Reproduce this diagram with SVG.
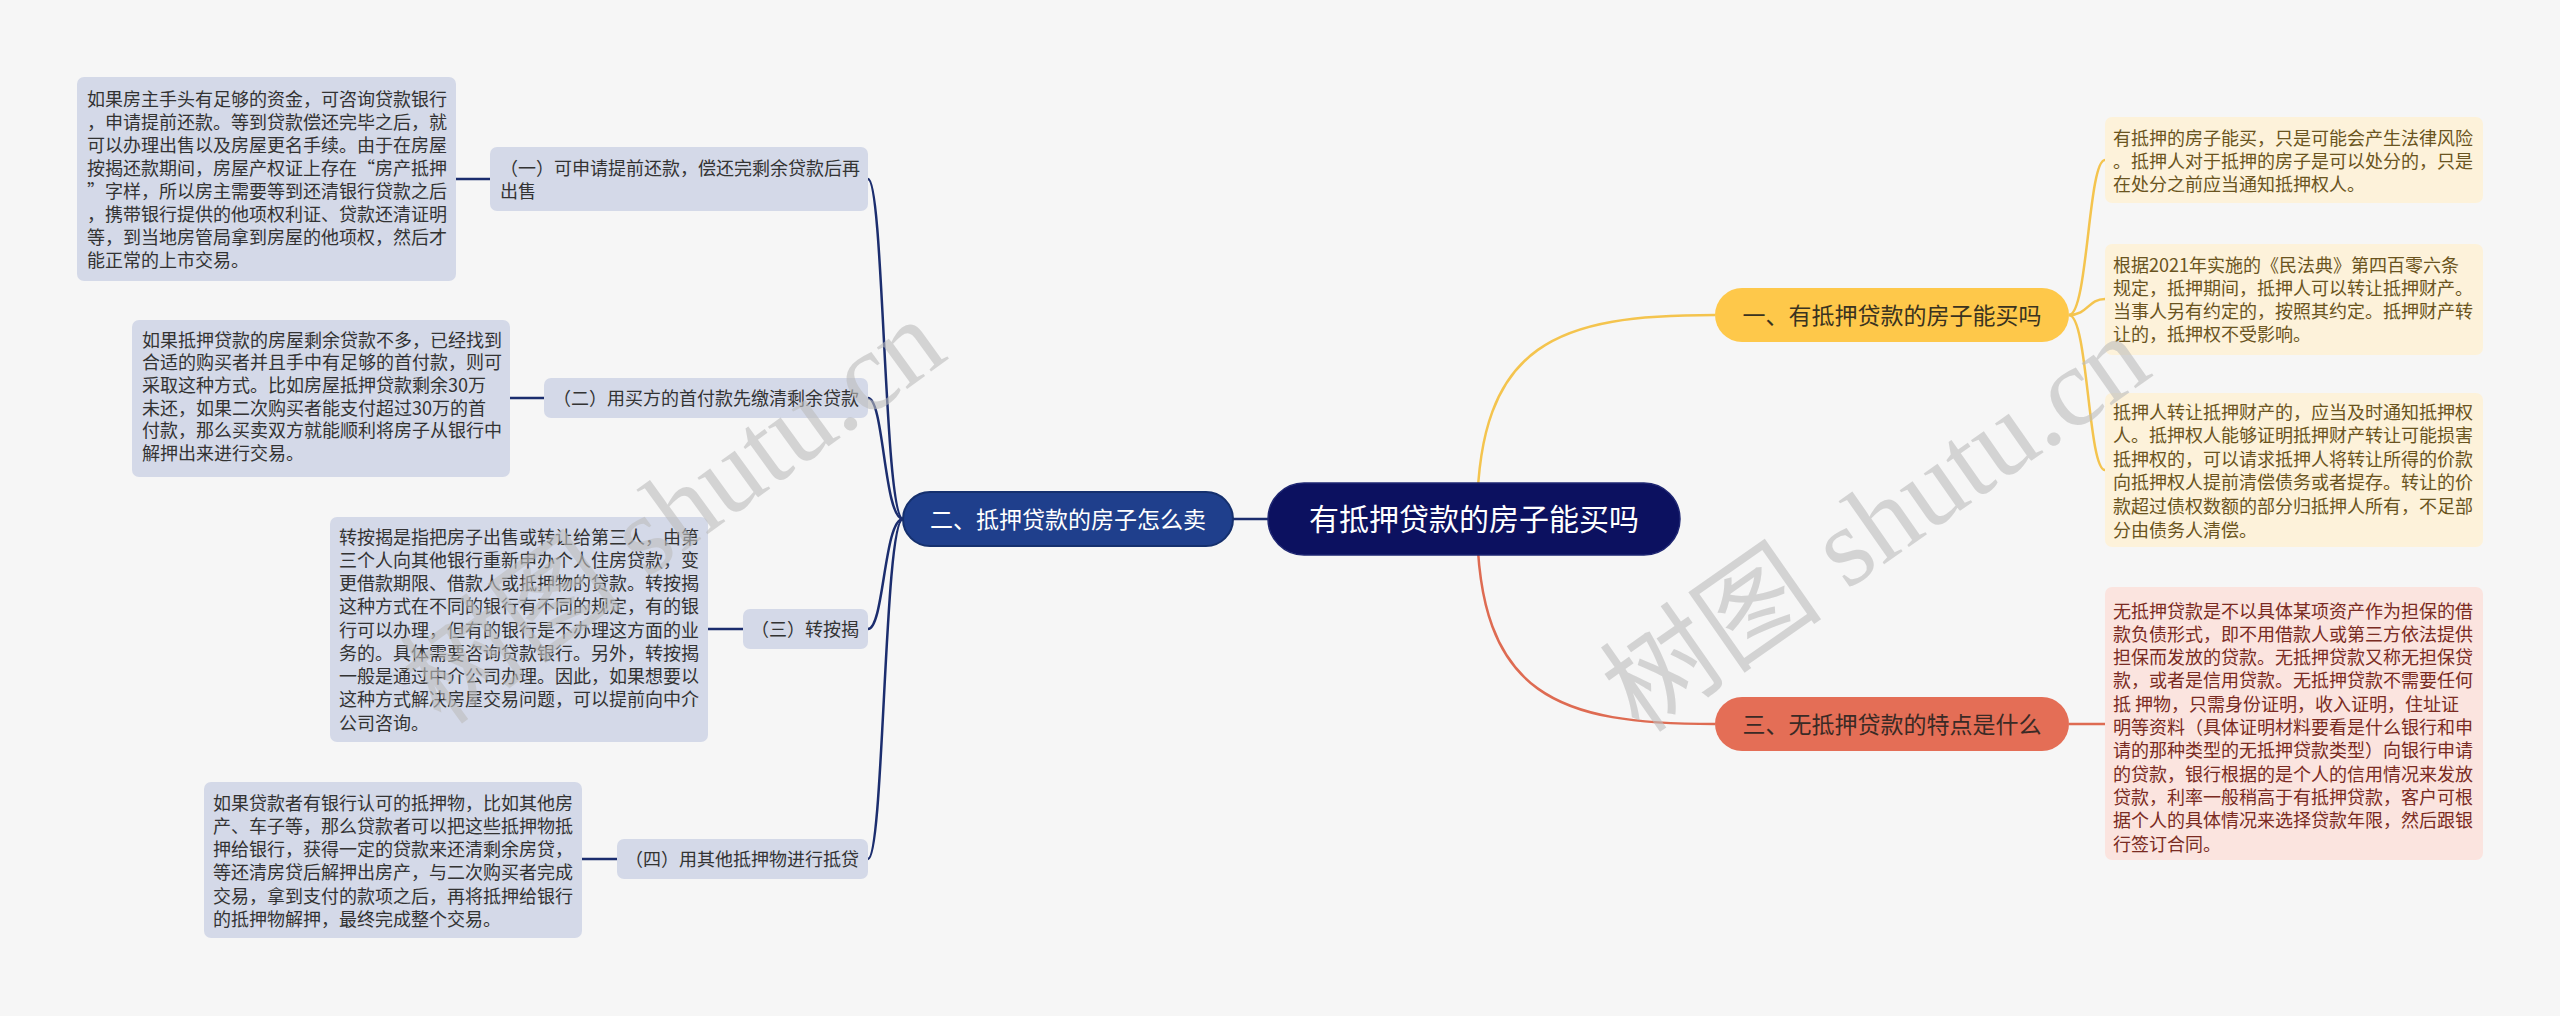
<svg xmlns="http://www.w3.org/2000/svg" width="2560" height="1016" viewBox="0 0 2560 1016">
<style>
.bg{fill:#f6f6f6}
.lbox{fill:#d4d9e8}
.ybox{fill:#fdf2da}
.pbox{fill:#fbe4df}
.t{font-family:"Noto Sans CJK SC","Liberation Sans",sans-serif;font-size:18px}
.lt{fill:#333333}
.yt{fill:#6a5420}
.pt{fill:#7a2b22}
.cl{fill:none;stroke:#1b2d6e;stroke-width:2.5}
.cy{fill:none;stroke:#f4c44e;stroke-width:2.5}
.cr{fill:none;stroke:#de6b52;stroke-width:2.5}
.big{font-family:"Noto Sans CJK SC","Liberation Sans",sans-serif;text-anchor:middle}
.wm{font-family:"Liberation Serif","Noto Sans CJK SC",serif;font-size:112px;fill:#bdbdbd;opacity:0.6}
</style>
<rect class="bg" x="0" y="0" width="2560" height="1016"/>

<g id="connectors">
  <line class="cl" x1="456" y1="179" x2="490" y2="179"/>
  <line class="cl" x1="510" y1="398" x2="544" y2="398"/>
  <line class="cl" x1="708" y1="629" x2="743" y2="629"/>
  <line class="cl" x1="582" y1="859" x2="617" y2="859"/>
  <path class="cl" d="M903 519 C884 519 884 179 868 179"/>
  <path class="cl" d="M903 519 C884 519 884 398 868 398"/>
  <path class="cl" d="M903 519 C884 519 884 629 868 629"/>
  <path class="cl" d="M903 519 C884 519 884 859 868 859"/>
  <line class="cl" x1="1233" y1="519" x2="1270" y2="519"/>
  <path class="cy" d="M1477 519 C1477 340 1560 315 1715 315"/>
  <path class="cr" d="M1477 519 C1477 698 1560 724 1715 724"/>
  <path class="cy" d="M2069 315 C2088 315 2088 160 2105 160"/>
  <path class="cy" d="M2069 315 C2088 315 2088 299 2105 299"/>
  <path class="cy" d="M2069 315 C2088 315 2088 470 2105 470"/>
  <line class="cr" x1="2069" y1="724" x2="2105" y2="724"/>
</g>

<g id="root">
  <rect x="1268" y="483" width="412" height="72" rx="36" fill="#0c1160" stroke="#1e2672" stroke-width="1.5"/>
  <text class="big" x="1474" y="530" font-size="30" fill="#ffffff">有抵押贷款的房子能买吗</text>
</g>

<g id="branch2">
  <rect x="903" y="492" width="330" height="54" rx="27" fill="#1f3f8c" stroke="#15306e" stroke-width="2"/>
  <text class="big" x="1068" y="527.5" font-size="23" fill="#ffffff">二、抵押贷款的房子怎么卖</text>
</g>

<g id="branch1">
  <rect x="1715" y="288" width="354" height="54" rx="27" fill="#fec84a"/>
  <text class="big" x="1892" y="323.5" font-size="23" fill="#3a3320">一、有抵押贷款的房子能买吗</text>
</g>

<g id="branch3">
  <rect x="1715" y="697" width="354" height="54" rx="27" fill="#e46e56"/>
  <text class="big" x="1892" y="732.5" font-size="23" fill="#3a2a25">三、无抵押贷款的特点是什么</text>
</g>

<g id="sub1">
  <rect class="lbox" x="490" y="147" width="378" height="64" rx="7"/>
  <text class="t lt" x="500" y="174.5">（一）可申请提前还款，偿还完剩余贷款后再<tspan x="500" dy="23.5">出售</tspan></text>
</g>
<g id="sub2">
  <rect class="lbox" x="544" y="378" width="324" height="40" rx="7"/>
  <text class="t lt" x="553" y="404.5">（二）用买方的首付款先缴清剩余贷款</text>
</g>
<g id="sub3">
  <rect class="lbox" x="743" y="609" width="125" height="40" rx="7"/>
  <text class="t lt" x="751" y="635.5">（三）转按揭</text>
</g>
<g id="sub4">
  <rect class="lbox" x="617" y="839" width="251" height="40" rx="7"/>
  <text class="t lt" x="625" y="865.5">（四）用其他抵押物进行抵贷</text>
</g>

<g id="leaf1">
  <rect class="lbox" x="77" y="77" width="379" height="204" rx="7"/>
  <text class="t lt" x="87" y="105.5">如果房主手头有足够的资金，可咨询贷款银行<tspan x="87" dy="23">，申请提前还款。等到贷款偿还完毕之后，就</tspan><tspan x="87" dy="23">可以办理出售以及房屋更名手续。由于在房屋</tspan><tspan x="87" dy="23">按揭还款期间，房屋产权证上存在“房产抵押</tspan><tspan x="87" dy="23">”字样，所以房主需要等到还清银行贷款之后</tspan><tspan x="87" dy="23">，携带银行提供的他项权利证、贷款还清证明</tspan><tspan x="87" dy="23">等，到当地房管局拿到房屋的他项权，然后才</tspan><tspan x="87" dy="23">能正常的上市交易。</tspan></text>
</g>

<g id="leaf2">
  <rect class="lbox" x="132" y="320" width="378" height="157" rx="7"/>
  <text class="t lt" x="142" y="346.5">如果抵押贷款的房屋剩余贷款不多，已经找到<tspan x="142" dy="22.7">合适的购买者并且手中有足够的首付款，则可</tspan><tspan x="142" dy="22.7">采取这种方式。比如房屋抵押贷款剩余30万</tspan><tspan x="142" dy="22.7">未还，如果二次购买者能支付超过30万的首</tspan><tspan x="142" dy="22.7">付款，那么买卖双方就能顺利将房子从银行中</tspan><tspan x="142" dy="22.7">解押出来进行交易。</tspan></text>
</g>

<g id="leaf3">
  <rect class="lbox" x="330" y="517" width="378" height="225" rx="7"/>
  <text class="t lt" x="339" y="543.5">转按揭是指把房子出售或转让给第三人，由第<tspan x="339" dy="23.25">三个人向其他银行重新申办个人住房贷款，变</tspan><tspan x="339" dy="23.25">更借款期限、借款人或抵押物的贷款。转按揭</tspan><tspan x="339" dy="23.25">这种方式在不同的银行有不同的规定，有的银</tspan><tspan x="339" dy="23.25">行可以办理，但有的银行是不办理这方面的业</tspan><tspan x="339" dy="23.25">务的。具体需要咨询贷款银行。另外，转按揭</tspan><tspan x="339" dy="23.25">一般是通过中介公司办理。因此，如果想要以</tspan><tspan x="339" dy="23.25">这种方式解决房屋交易问题，可以提前向中介</tspan><tspan x="339" dy="23.25">公司咨询。</tspan></text>
</g>

<g id="leaf4">
  <rect class="lbox" x="204" y="782" width="378" height="156" rx="7"/>
  <text class="t lt" x="213" y="809.5">如果贷款者有银行认可的抵押物，比如其他房<tspan x="213" dy="23.3">产、车子等，那么贷款者可以把这些抵押物抵</tspan><tspan x="213" dy="23.3">押给银行，获得一定的贷款来还清剩余房贷，</tspan><tspan x="213" dy="23.3">等还清房贷后解押出房产，与二次购买者完成</tspan><tspan x="213" dy="23.3">交易，拿到支付的款项之后，再将抵押给银行</tspan><tspan x="213" dy="23.3">的抵押物解押，最终完成整个交易。</tspan></text>
</g>

<g id="leafA">
  <rect class="ybox" x="2105" y="117" width="378" height="86" rx="7"/>
  <text class="t yt" x="2113" y="144.5">有抵押的房子能买，只是可能会产生法律风险<tspan x="2113" dy="23">。抵押人对于抵押的房子是可以处分的，只是</tspan><tspan x="2113" dy="23">在处分之前应当通知抵押权人。</tspan></text>
</g>

<g id="leafB">
  <rect class="ybox" x="2105" y="244" width="378" height="111" rx="7"/>
  <text class="t yt" x="2113" y="271.5">根据2021年实施的《民法典》第四百零六条<tspan x="2113" dy="23">规定，抵押期间，抵押人可以转让抵押财产。</tspan><tspan x="2113" dy="23">当事人另有约定的，按照其约定。抵押财产转</tspan><tspan x="2113" dy="23">让的，抵押权不受影响。</tspan></text>
</g>

<g id="leafC">
  <rect class="ybox" x="2105" y="393" width="378" height="154" rx="7"/>
  <text class="t yt" x="2113" y="418.5">抵押人转让抵押财产的，应当及时通知抵押权<tspan x="2113" dy="23.6">人。抵押权人能够证明抵押财产转让可能损害</tspan><tspan x="2113" dy="23.6">抵押权的，可以请求抵押人将转让所得的价款</tspan><tspan x="2113" dy="23.6">向抵押权人提前清偿债务或者提存。转让的价</tspan><tspan x="2113" dy="23.6">款超过债权数额的部分归抵押人所有，不足部</tspan><tspan x="2113" dy="23.6">分由债务人清偿。</tspan></text>
</g>

<g id="leafD">
  <rect class="pbox" x="2105" y="587" width="378" height="273" rx="7"/>
  <text class="t pt" x="2113" y="617.5">无抵押贷款是不以具体某项资产作为担保的借<tspan x="2113" dy="23.3">款负债形式，即不用借款人或第三方依法提供</tspan><tspan x="2113" dy="23.3">担保而发放的贷款。无抵押贷款又称无担保贷</tspan><tspan x="2113" dy="23.3">款，或者是信用贷款。无抵押贷款不需要任何</tspan><tspan x="2113" dy="23.3">抵 押物，只需身份证明，收入证明，住址证</tspan><tspan x="2113" dy="23.3">明等资料（具体证明材料要看是什么银行和申</tspan><tspan x="2113" dy="23.3">请的那种类型的无抵押贷款类型）向银行申请</tspan><tspan x="2113" dy="23.3">的贷款，银行根据的是个人的信用情况来发放</tspan><tspan x="2113" dy="23.3">贷款，利率一般稍高于有抵押贷款，客户可根</tspan><tspan x="2113" dy="23.3">据个人的具体情况来选择贷款年限，然后跟银</tspan><tspan x="2113" dy="23.3">行签订合同。</tspan></text>
</g>

<g id="watermarks">
  <text class="wm" transform="translate(442 727) rotate(-36)">树图 shutu.cn</text>
  <text class="wm" transform="translate(1640 735) rotate(-35)">树图 shutu.cn</text>
</g>
</svg>
